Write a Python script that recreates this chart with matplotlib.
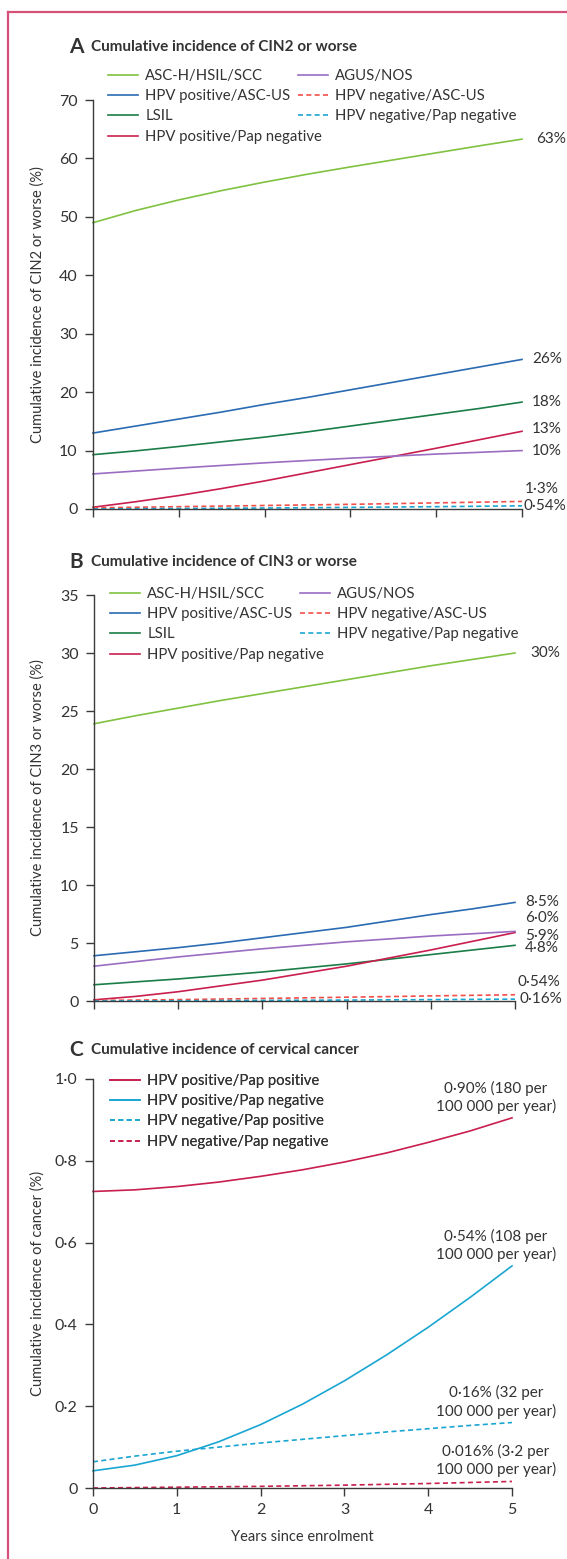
import matplotlib
matplotlib.use("Agg")
import matplotlib.pyplot as plt
from matplotlib.lines import Line2D

plt.rcParams["font.family"] = ["Lato", "DejaVu Sans"]

# ── data ──────────────────────────────────────────────────────────────────────
years = [0, 0.5, 1, 1.5, 2, 2.5, 3, 3.5, 4, 4.5, 5]

# A: CIN2 or worse (%)
a_asch = [49.0, 51.1, 52.9, 54.5, 55.95, 57.3, 58.55, 59.75, 60.95, 62.15, 63.3]
a_hpvpos_ascus = [13.0, 14.2, 15.4, 16.6, 17.9, 19.1, 20.4, 21.7, 23.0, 24.3, 25.6]
a_lsil = [9.3, 9.95, 10.7, 11.5, 12.3, 13.2, 14.2, 15.2, 16.2, 17.2, 18.3]
a_hpvpos_papneg = [0.3, 1.25, 2.3, 3.5, 4.8, 6.2, 7.6, 9.0, 10.4, 11.85, 13.3]
a_agus = [6.0, 6.5, 7.0, 7.45, 7.9, 8.3, 8.7, 9.05, 9.4, 9.7, 10.0]
a_hpvneg_ascus = [0.2, 0.3, 0.4, 0.5, 0.6, 0.7, 0.8, 0.92, 1.05, 1.17, 1.3]
a_hpvneg_papneg = [0.0, 0.04, 0.08, 0.12, 0.17, 0.22, 0.28, 0.34, 0.4, 0.47, 0.54]
a_end_labels = ["63%", "26%", "18%", "13%", "10%", "1·3%", "0·54%"]

# B: CIN3 or worse (%)
b_asch = [23.9, 24.6, 25.25, 25.9, 26.5, 27.1, 27.7, 28.3, 28.9, 29.45, 30.0]
b_hpvpos_ascus = [3.9, 4.25, 4.6, 5.0, 5.45, 5.9, 6.35, 6.9, 7.45, 7.95, 8.5]
b_lsil = [1.4, 1.65, 1.9, 2.2, 2.5, 2.85, 3.2, 3.6, 4.0, 4.4, 4.8]
b_hpvpos_papneg = [0.1, 0.4, 0.8, 1.3, 1.8, 2.4, 3.0, 3.7, 4.4, 5.15, 5.9]
b_agus = [3.0, 3.4, 3.8, 4.15, 4.5, 4.8, 5.1, 5.35, 5.6, 5.8, 6.0]
b_hpvneg_ascus = [0.05, 0.08, 0.12, 0.17, 0.22, 0.27, 0.33, 0.38, 0.44, 0.49, 0.54]
b_hpvneg_papneg = [0.0, 0.01, 0.02, 0.035, 0.05, 0.065, 0.08, 0.1, 0.12, 0.14, 0.16]
b_end_labels = ["30%", "8·5%", "4·8%", "5·9%", "6·0%", "0·54%", "0·16%"]

# C: cervical cancer (%)
c_pos_pos = [0.725, 0.729, 0.737, 0.748, 0.762, 0.778, 0.797, 0.819, 0.845, 0.873, 0.905]
c_pos_neg = [0.042, 0.056, 0.079, 0.113, 0.155, 0.205, 0.262, 0.325, 0.393, 0.466, 0.543]
c_neg_pos = [0.064, 0.078, 0.090, 0.100, 0.110, 0.119, 0.128, 0.137, 0.145, 0.153, 0.160]
c_neg_neg = [0.0, 0.001, 0.002, 0.003, 0.004, 0.0055, 0.007, 0.009, 0.011, 0.0135, 0.016]
c_end_labels = ["0·90% (180 per\n100 000 per year)", "0·54% (108 per\n100 000 per year)",
                "0·16% (32 per\n100 000 per year)", "0·016% (3·2 per\n100 000 per year)"]
c_yticklabels = ["0", "0·2", "0·4", "0·6", "0·8", "1·0"]

ab_names = ["ASC-H/HSIL/SCC", "HPV positive/ASC-US", "LSIL", "HPV positive/Pap negative",
            "AGUS/NOS", "HPV negative/ASC-US", "HPV negative/Pap negative"]
c_names = ["HPV positive/Pap positive", "HPV positive/Pap negative",
           "HPV negative/Pap positive", "HPV negative/Pap negative"]

# ── style ─────────────────────────────────────────────────────────────────────
GREEN = "#80c241"
BLUE = "#2a6bb3"
DGREEN = "#1b7d47"
CRIMSON = "#c81f4e"
PURPLE = "#9a6cc2"
SALMON = "#f24f4a"
CYAN = "#1aa6d2"
AXC = "#3a3a3a"
TXT = "#333333"
FRAME = "#d6507a"

ab_colors = [GREEN, BLUE, DGREEN, CRIMSON, PURPLE, SALMON, CYAN]
ab_styles = ["-", "-", "-", "-", "-", "--", "--"]
c_colors = [CRIMSON, CYAN, CYAN, CRIMSON]
c_styles = ["-", "-", "--", "--"]

W, H = 567, 1559
fig = plt.figure(figsize=(W / 100, H / 100), dpi=100)

# frame (top + left rule)
fig.add_artist(Line2D([8 / W, 8 / W], [0, 1 - 12 / H], color=FRAME, lw=1.6))
fig.add_artist(Line2D([8 / W, 1], [1 - 12 / H, 1 - 12 / H], color=FRAME, lw=1.6))


def px_axes(l, r, t, b):
    return fig.add_axes([l / W, 1 - b / H, (r - l) / W, (b - t) / H])


def dash(s):
    return (3, 2) if s == "--" else (None, None)


def style_axes(ax, ymax, yticks, show_x):
    ax.set_xlim(0, 5)
    ax.set_ylim(0, ymax)
    ax.set_xticks(range(6))
    ax.set_yticks(yticks)
    for s in ("top", "right"):
        ax.spines[s].set_visible(False)
    for s in ("left", "bottom"):
        ax.spines[s].set_color(AXC)
        ax.spines[s].set_linewidth(1.0)
    ax.tick_params(direction="out", length=6, width=1.0, color=AXC,
                   labelsize=11.5, labelcolor=TXT, pad=5)
    if not show_x:
        ax.set_xticklabels([])
    ax.patch.set_alpha(0)


def panel_title(letter, text, y):
    fig.text(69 / W, 1 - y / H, letter, fontsize=15, fontweight="bold",
             color=TXT, va="center", ha="left")
    fig.text(91 / W, 1 - y / H, text, fontsize=11, fontweight="bold",
             color=TXT, va="center", ha="left")


def ylabel(text, t, b):
    fig.text(38 / W, 1 - (t + b) / 2 / H, text, rotation=90, fontsize=10.5,
             color=TXT, va="center", ha="center")


def legends(ax, names, colors, styles, split, x1, x2, ytop):
    handles = [Line2D([], [], color=c, ls=s, lw=1.2, dashes=dash(s))
               for c, s in zip(colors, styles)]
    kw = dict(frameon=False, loc="upper left", fontsize=10.7, handlelength=2.0,
              handletextpad=0.5, labelspacing=0.42, borderpad=0, borderaxespad=0,
              bbox_transform=fig.transFigure, labelcolor=TXT)
    lg1 = ax.legend(handles[:split], names[:split],
                    bbox_to_anchor=(x1 / W, 1 - ytop / H), **kw)
    ax.add_artist(lg1)
    if split < len(names):
        ax.legend(handles[split:], names[split:],
                  bbox_to_anchor=(x2 / W, 1 - ytop / H), **kw)


def end_label(ax, x, y, text, dx, dy, **kw):
    ax.annotate(text, xy=(x, y), xytext=(dx, dy), textcoords="offset pixels",
                fontsize=11, color=TXT, annotation_clip=False, **kw)


# ── A ─────────────────────────────────────────────────────────────────────────
panel_title("A", "Cumulative incidence of CIN2 or worse", 47)
axA = px_axes(93, 522, 100, 509)
a_series = [a_asch, a_hpvpos_ascus, a_lsil, a_hpvpos_papneg, a_agus, a_hpvneg_ascus, a_hpvneg_papneg]
for ys, c, s in zip(a_series, ab_colors, ab_styles):
    axA.plot(years, ys, color=c, lw=1.2, ls=s, dashes=dash(s), clip_on=False)
style_axes(axA, 70, range(0, 71, 10), False)
legends(axA, ab_names, ab_colors, ab_styles, 4, 108, 298, 69)
ylabel("Cumulative incidence of CIN2 or worse (%)", 100, 509)
a_dx = [14, 10, 10, 10, 10, 3, 2]
a_dy = [0, 0, 0, 2, 0, 12, 0]
for ys, lab, dx, dy in zip(a_series, a_end_labels, a_dx, a_dy):
    end_label(axA, years[-1], ys[-1], lab, dx, dy, va="center", ha="left")

# ── B ─────────────────────────────────────────────────────────────────────────
panel_title("B", "Cumulative incidence of CIN3 or worse", 562)
axB = px_axes(94, 515, 595, 1001)
b_series = [b_asch, b_hpvpos_ascus, b_lsil, b_hpvpos_papneg, b_agus, b_hpvneg_ascus, b_hpvneg_papneg]
for ys, c, s in zip(b_series, ab_colors, ab_styles):
    axB.plot(years, ys, color=c, lw=1.2, ls=s, dashes=dash(s), clip_on=False)
style_axes(axB, 35, range(0, 36, 5), False)
legends(axB, ab_names, ab_colors, ab_styles, 4, 110, 300, 587)
ylabel("Cumulative incidence of CIN3 or worse (%)", 595, 1001)
b_dx = [15, 10, 10, 10, 10, 2, 5]
b_dy = [0, 0, -3, -3, 13, 13, 0]
for ys, lab, dx, dy in zip(b_series, b_end_labels, b_dx, b_dy):
    end_label(axB, years[-1], ys[-1], lab, dx, dy, va="center", ha="left")

# ── C ─────────────────────────────────────────────────────────────────────────
panel_title("C", "Cumulative incidence of cervical cancer", 1050)
axC = px_axes(93, 512, 1079, 1488)
c_series = [c_pos_pos, c_pos_neg, c_neg_pos, c_neg_neg]
for ys, c, s in zip(c_series, c_colors, c_styles):
    axC.plot(years, ys, color=c, lw=1.2, ls=s, dashes=dash(s), clip_on=False)
style_axes(axC, 1.0, [0, 0.2, 0.4, 0.6, 0.8, 1.0], True)
axC.set_yticklabels(c_yticklabels)
legends(axC, c_names, c_colors, c_styles, 4, 110, 300, 1074)
ylabel("Cumulative incidence of cancer (%)", 1079, 1488)
axC.set_xlabel("Years since enrolment", fontsize=10.5, color=TXT, labelpad=9)
for ys, lab in zip(c_series, c_end_labels):
    end_label(axC, years[-1], ys[-1], lab, 44, 4, va="bottom", ha="right",
              multialignment="center", linespacing=1.25)

fig.savefig("out.png", dpi=100)
